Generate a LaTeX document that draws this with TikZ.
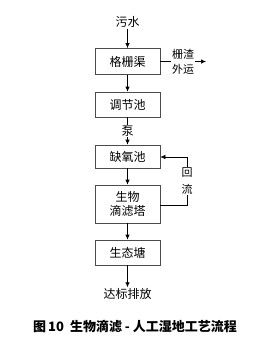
\documentclass[tikz,border=0pt]{standalone}
\usepackage{fontspec}
\setmainfont{Noto Sans CJK SC}
\usetikzlibrary{arrows.meta}
\begin{document}
\begin{tikzpicture}[x=1pt,y=-1pt,
  procbox/.style={draw=black!70,line width=0.7pt,minimum width=65pt,inner sep=0pt,font=\fontsize{12}{14}\selectfont,align=center},
  lbl/.style={font=\fontsize{12}{14}\selectfont,inner sep=1pt,align=center},
  flow/.style={line width=0.7pt,-{Latex[length=5pt,width=4.5pt]}}]
\useasboundingbox (0,0) rectangle (265,359);
\node[lbl] (in) at (127.5,22) {污水};
\node[procbox,minimum height=26pt] (b1) at (127.5,61.5) {格栅渠};
\node[procbox,minimum height=25pt] (b2) at (127.5,104.5) {调节池};
\node[procbox,minimum height=23pt] (b3) at (127.5,156.5) {缺氧池};
\node[procbox,minimum height=38pt] (b4) at (127.5,204) {生物\\滴滤塔};
\node[procbox,minimum height=25pt] (b5) at (127.5,252.5) {生态塘};
\node[lbl] (out) at (127.5,294) {达标排放};
\coordinate (waste) at (206,61.5);
\coordinate (rx) at (187,205);
\coordinate (ry) at (187,157);
\draw[flow] (in) -- (b1);
\draw[flow] (b1) -- (b2);
\draw[flow] (b2) -- node[lbl,fill=white,inner sep=0.5pt] {泵} (b3);
\draw[flow] (b3) -- (b4);
\draw[flow] (b4) -- (b5);
\draw[flow] (b5) -- (out);
\draw[flow] (b1.east) -- node[lbl,fill=white,font=\fontsize{11}{15}\selectfont,inner sep=1pt] {栅渣\\外运} (waste);
\draw[flow] (b4.east |- rx) -- (rx) -- node[lbl,fill=white,font=\fontsize{11}{17}\selectfont,inner sep=1pt] {回\\流} (ry) -- (b3.east |- ry);
\node[font=\bfseries\fontsize{13}{15}\selectfont] (cap) at (135,327) {图\,10\ \ 生物滴滤\ -\ 人工湿地工艺流程};
\end{tikzpicture}
\end{document}
